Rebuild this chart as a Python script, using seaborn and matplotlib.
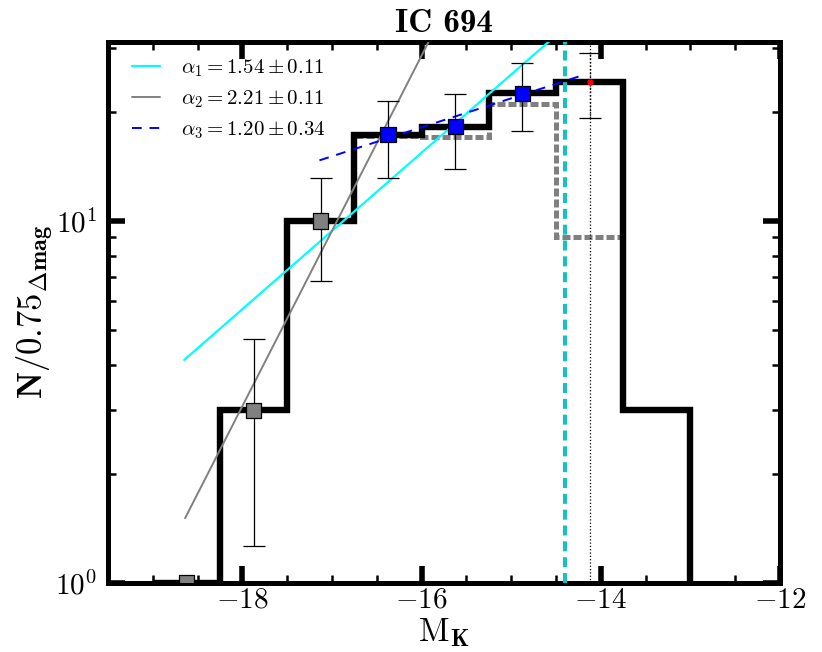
import numpy as np
import pandas as pd
import matplotlib
matplotlib.use("Agg")
import matplotlib.pyplot as plt
from matplotlib.ticker import MultipleLocator, LogLocator, NullFormatter
import seaborn as sns

# Luminosity function of IC 694 in 0.75 mag bins (K band)
bin_edges = [-19.0, -18.25, -17.5, -16.75, -16.0, -15.25, -14.5, -13.75, -13.0]
n_corrected = [1, 3, 10, 17.3, 18.2, 22.5, 24.2, 3]
obs_edges = [-19.0, -18.25, -17.5, -16.75, -16.0, -15.25, -14.5, -13.75]
n_observed = [1, 3, 10, 17.2, 17.0, 21.0, 9.0]

# which bins are shown as markers
gray_bins = [0, 1, 2]
blue_bins = [3, 4, 5]
red_bins = [6]

# power-law fits: slope alpha, uncertainty, fitted range and amplitude at start
alpha = [1.54, 2.21, 1.20]
alpha_err = [0.11, 0.11, 0.34]
fit_m_start = [-18.65, -18.64, -17.14]
fit_m_end = [-14.0, -15.5, -14.2]
fit_n_start = [4.13, 1.51, 14.7]
fit_colors = ["#00ffff", "0.5", "blue"]

m_limit_cyan = -14.4
m_limit_dot = -14.125

sns.set_theme(style="ticks")
plt.rcParams.update({
    "font.family": "serif",
    "font.serif": ["cmr10", "DejaVu Serif"],
    "mathtext.fontset": "cm",
    "axes.formatter.use_mathtext": True,
    "axes.unicode_minus": True,
    "text.color": "black",
    "axes.labelcolor": "black",
    "xtick.color": "black",
    "ytick.color": "black",
})

edges = np.array(bin_edges)
centers = 0.5 * (edges[:-1] + edges[1:])
ncor = np.array(n_corrected, dtype=float)

fig = plt.figure(figsize=(8.22, 6.52), dpi=100)
ax = fig.add_axes([0.1314, 0.1058, 0.8175, 0.8298])
ax.set_yscale("log")

# observed (uncorrected) counts
ax.stairs(n_observed, obs_edges, baseline=None, color="0.5", lw=3.6,
          linestyle=(0, (1.6, 0.6)), zorder=2)
# corrected counts
ax.stairs(n_corrected, bin_edges, baseline=1, color="black", lw=4.6, zorder=3)

# power-law fits
for i, (a, ae, m0, m1, n0, c, ls) in enumerate(zip(
        alpha, alpha_err, fit_m_start, fit_m_end, fit_n_start, fit_colors,
        ["-", "-", "--"])):
    m = np.linspace(m0, m1, 50)
    n = n0 * 10 ** (0.4 * (a - 1) * (m - m0))
    lbl = r"$\alpha_{%d} = %.2f \pm %.2f$" % (i + 1, a, ae)
    line, = ax.plot(m, n, color=c, lw=1.6 if i == 0 else 1.4,
                    ls=ls, label=lbl, zorder=4)
    if ls == "--":
        line.set_dashes((5, 4))

# completeness limits
ax.axvline(m_limit_cyan, color="#1cbfbf", lw=3.0, dashes=(2.4, 1.4), zorder=5)
ax.axvline(m_limit_dot, color="black", lw=0.9, ls=":", zorder=5)

# Poisson error bars
err_bins = [1, 2, 3, 4, 5]
ax.errorbar(centers[err_bins], ncor[err_bins], yerr=np.sqrt(ncor[err_bins]),
            fmt="none", ecolor="black", elinewidth=0.9, capsize=8,
            capthick=0.9, zorder=6)
eb = ax.errorbar(centers[red_bins], ncor[red_bins], yerr=np.sqrt(ncor[red_bins]),
                 fmt="o", color="red", ms=3.5, ecolor="black", elinewidth=1.0,
                 capsize=8, capthick=0.9, zorder=8)
for lc in eb[2]:
    lc.set_linestyle(":")

pts = pd.DataFrame({
    "mag": np.concatenate([centers[gray_bins], centers[blue_bins]]),
    "n": np.concatenate([ncor[gray_bins], ncor[blue_bins]]),
    "group": ["gray"] * len(gray_bins) + ["blue"] * len(blue_bins),
})
sns.scatterplot(data=pts, x="mag", y="n", hue="group",
                palette={"gray": "0.5", "blue": "blue"}, marker="s", s=120,
                edgecolor="black", linewidth=0.9, legend=False, ax=ax,
                zorder=7)

ax.set_xlim(-19.5, -12)
ax.set_ylim(1, 31.2)

ax.xaxis.set_major_locator(MultipleLocator(2))
ax.xaxis.set_minor_locator(MultipleLocator(0.5))
ax.yaxis.set_major_locator(LogLocator(base=10))
ax.yaxis.set_minor_locator(LogLocator(base=10, subs=np.arange(2, 10)))
ax.yaxis.set_minor_formatter(NullFormatter())

ax.tick_params(which="both", direction="in", top=True, right=True,
               colors="black")
ax.tick_params(which="major", length=12, width=4, labelsize=21)
ax.tick_params(which="minor", length=6, width=1.8)
ax.tick_params(axis="x", which="major", pad=3)
ax.tick_params(axis="y", which="major", pad=8)
for sp in ax.spines.values():
    sp.set_linewidth(3.6)
    sp.set_color("black")

ax.set_xlabel(r"$\mathrm{M}_{\mathbf{K}}$", fontsize=24, labelpad=2,
              color="black")
ax.set_ylabel(r"$\mathbf{N/0.75}_{\mathbf{\Delta mag}}$", fontsize=25,
              labelpad=-1, color="black")
ax.set_title("IC 694", fontfamily="cmb10", fontsize=24, pad=7, color="black")

ax.legend(loc="upper left", bbox_to_anchor=(0.036, 0.972), frameon=False,
          fontsize=15, handlelength=1.35, handletextpad=1.0,
          labelspacing=0.45, borderaxespad=0.0, borderpad=0.0)

fig.savefig("out.png", dpi=100)
